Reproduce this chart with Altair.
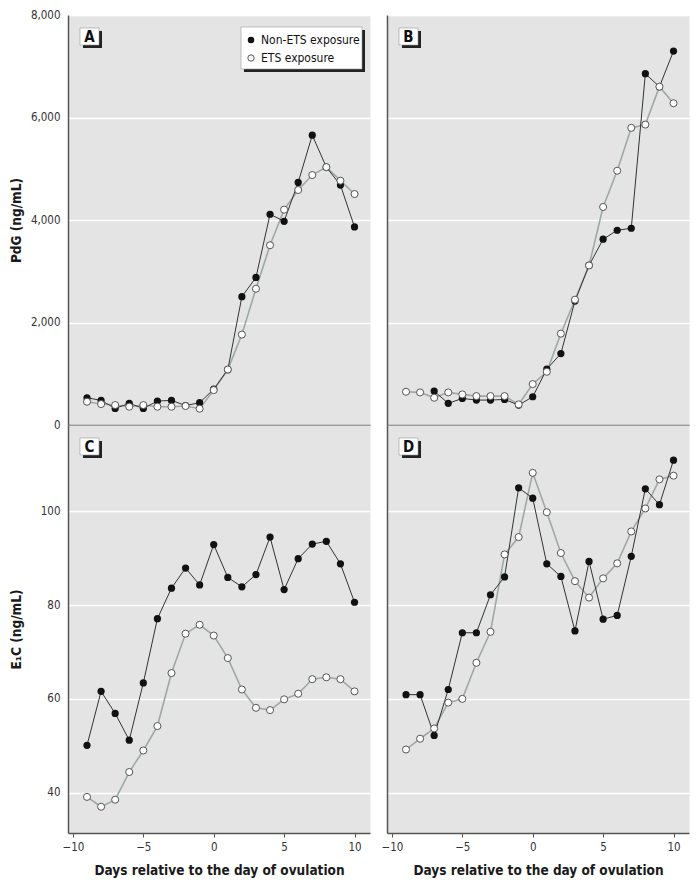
import altair as alt
import pandas as pd

days = list(range(-9, 11))
groups = ["Non-ETS exposure", "ETS exposure"]

a_non = [532, 480, 324, 422, 324, 467, 480, 380, 435, 700, 1080, 2503, 2879, 4112, 3975, 4734, 5655, 5030, 4682, 3865]
a_ets = [454, 409, 389, 357, 389, 357, 357, 370, 318, 681, 1083, 1764, 2659, 3508, 4202, 4585, 4877, 5032, 4767, 4507]
b_non = [None, None, 661, 422, 519, 486, 486, 499, 389, 551, 1089, 1394, 2419, 3113, 3625, 3800, 3839, 6855, 6600, 7296]
b_ets = [649, 636, 532, 636, 597, 564, 564, 564, 402, 798, 1038, 1783, 2445, 3113, 4254, 4961, 5798, 5862, 6602, 6278]
c_non = [50.1, 61.6, 56.9, 51.2, 63.4, 77.1, 83.6, 87.9, 84.3, 92.9, 85.9, 83.9, 86.5, 94.5, 83.3, 89.9, 93.0, 93.6, 88.8, 80.6]
c_ets = [39.1, 37.0, 38.5, 44.4, 49.0, 54.2, 65.5, 73.9, 75.8, 73.5, 68.7, 62.0, 58.1, 57.6, 59.9, 61.1, 64.2, 64.6, 64.2, 61.6]
d_non = [60.9, 60.9, 52.2, 62.0, 74.1, 74.1, 82.2, 86.0, 105.0, 102.8, 88.8, 86.1, 74.5, 89.3, 77.0, 77.8, 90.4, 104.8, 101.4, 110.9]
d_ets = [49.2, 51.5, 53.7, 59.2, 60.0, 67.7, 74.3, 90.8, 94.5, 108.2, 99.8, 91.1, 85.1, 81.6, 85.7, 88.9, 95.7, 100.6, 106.8, 107.6]

pdg_ticks = [0, 2000, 4000, 6000, 8000]
e1c_ticks = [40, 60, 80, 100]
x_ticks = [-10, -5, 0, 5, 10]
x_title = "Days relative to the day of ovulation"
pdg_title = "PdG (ng/mL)"
e1c_title = "E\u2081C (ng/mL)"

FONT = "DejaVu Sans Condensed, Liberation Sans Narrow, sans-serif"
W = 302
TOP_H = 410
BOT_H = 408


def box(x1, y1, x2, y2, fill, stroke="transparent"):
    return alt.Chart(pd.DataFrame({"k": [0]})).mark_rect(
        fill=fill, stroke=stroke, strokeWidth=0.6
    ).encode(x=alt.value(x1), x2=alt.value(x2), y=alt.value(y1), y2=alt.value(y2))


def label(text, x, y, size, weight="normal", align="left"):
    return alt.Chart(pd.DataFrame({"t": [text]})).mark_text(
        font=FONT, fontSize=size, fontWeight=weight, align=align, baseline="middle", color="#111"
    ).encode(text="t:N", x=alt.value(x), y=alt.value(y))


def panel(non, ets, letter, ydom, yvals, yfmt, left, bottom, ytitle, height, legend=False):
    df = pd.DataFrame({
        "day": days + days,
        "value": non + ets,
        "group": [groups[0]] * len(days) + [groups[1]] * len(days),
    })
    if bottom:
        xaxis = alt.Axis(values=x_ticks, title=x_title, grid=False, tickSize=4,
                         labelPadding=4, titlePadding=11, format="d")
    else:
        xaxis = alt.Axis(values=x_ticks, labels=False, ticks=False, grid=False, title=None)
    if left:
        yaxis = alt.Axis(values=yvals, format=yfmt, title=ytitle, titleX=-45, ticks=False,
                         labelPadding=8, grid=True)
    else:
        yaxis = alt.Axis(values=yvals, labels=False, ticks=False, title=None, grid=True)
    base = alt.Chart(df).encode(
        x=alt.X("day:Q", scale=alt.Scale(domain=[-10.35, 11.1], nice=False, zero=False), axis=xaxis),
        y=alt.Y("value:Q", scale=alt.Scale(domain=ydom, nice=False, zero=False), axis=yaxis),
    )
    f_non = alt.datum.group == groups[0]
    f_ets = alt.datum.group == groups[1]
    layers = [
        base.transform_filter(f_ets).mark_line(color="#9ea8a8", strokeWidth=1.6),
        base.transform_filter(f_non).mark_line(color="#333333", strokeWidth=1),
        base.transform_filter(f_non).mark_circle(size=52, color="#111111", opacity=1),
        base.transform_filter(f_ets).mark_circle(size=50, color="white", stroke="#555555",
                                                 strokeWidth=1, opacity=1),
        box(15, 16, 34, 33, "#222222"),
        box(12, 13, 31, 30, "white", "#999999"),
        label(letter, 21.5, 21.5, 15, "bold", "center"),
    ]
    if legend:
        layers += [
            box(176, 15, 297, 57, "#222222"),
            box(173, 12, 294, 54, "white", "#999999"),
            alt.Chart(pd.DataFrame({"k": [0]})).mark_circle(size=42, color="#111111", opacity=1)
            .encode(x=alt.value(183), y=alt.value(25)),
            alt.Chart(pd.DataFrame({"k": [0]})).mark_circle(size=40, color="white", stroke="#555555",
                                                            strokeWidth=1, opacity=1)
            .encode(x=alt.value(183), y=alt.value(43)),
            label(groups[0], 193, 25, 12),
            label(groups[1], 193, 43, 12),
        ]
    return alt.layer(*layers).properties(width=W, height=height)


pA = panel(a_non, a_ets, "A", [0, 8000], pdg_ticks, ",d", True, False, pdg_title, TOP_H, legend=True)
pB = panel(b_non, b_ets, "B", [0, 8000], pdg_ticks, ",d", False, False, pdg_title, TOP_H)
pC = panel(c_non, c_ets, "C", [31.4, 118.4], e1c_ticks, "d", True, True, e1c_title, BOT_H)
pD = panel(d_non, d_ets, "D", [31.4, 118.4], e1c_ticks, "d", False, True, e1c_title, BOT_H)

chart = alt.concat(pA, pB, pC, pD, columns=2, bounds="flush",
                   spacing={"row": 0, "column": 17}).configure_view(
    fill="#e4e4e4", stroke="transparent"
).configure_axis(
    labelFont=FONT, labelFontSize=11.5, labelColor="#333333",
    titleFont=FONT, titleFontSize=13.5, titleFontWeight="bold", titleColor="#1a1a1a",
    domainColor="#555555", domainWidth=1.5, tickColor="#555555",
    gridColor="white", gridWidth=1.5,
).properties(background="white", padding=0)

chart.save("out.html", embed_options={"renderer": "svg", "actions": False})
